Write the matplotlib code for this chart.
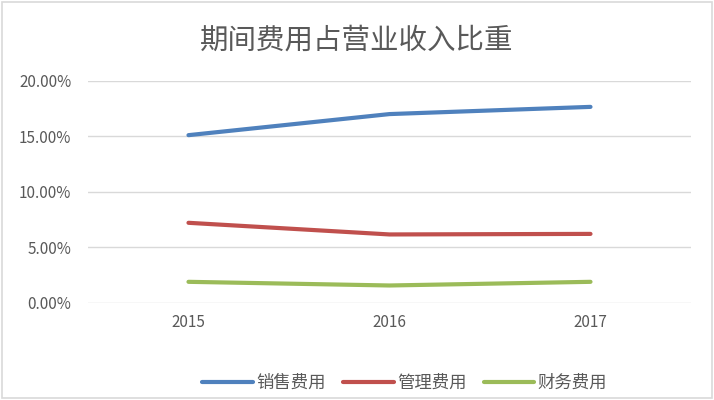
import matplotlib
matplotlib.use('Agg')
import matplotlib.pyplot as plt
import matplotlib.patches as patches
from matplotlib.ticker import PercentFormatter

plt.rcParams['font.family'] = ['Noto Sans CJK SC', 'DejaVu Sans']

years = ['2015', '2016', '2017']
sales = [15.1, 17.0, 17.65]
admin = [7.2, 6.15, 6.2]
finance = [1.88, 1.55, 1.88]
series_names = ['销售费用', '管理费用', '财务费用']
colors = ['#4F81BD', '#C0504D', '#9BBB59']

fig = plt.figure(figsize=(7.14, 4.0), dpi=100)
ax = fig.add_axes([0.1232, 0.2433, 0.8446, 0.5547])

x = range(len(years))
for vals, name, c in zip([sales, admin, finance], series_names, colors):
    ax.plot(x, [v / 100 for v in vals], color=c, lw=3, label=name,
            solid_capstyle='round')

ax.set_xlim(-0.5, 2.5)
ax.set_ylim(0, 0.2)
ax.set_yticks([0, 0.05, 0.10, 0.15, 0.20])
ax.yaxis.set_major_formatter(PercentFormatter(1.0, decimals=2))
ax.set_xticks(list(x))
ax.set_xticklabels(years)
ax.grid(axis='y', color='#D9D9D9', lw=1)
ax.set_axisbelow(True)
for s in ax.spines.values():
    s.set_visible(False)
ax.tick_params(length=0, labelsize=11, labelcolor='#595959', pad=8)
ax.tick_params(axis='y', pad=12)

fig.suptitle('期间费用占营业收入比重', x=0.5, y=0.935, fontsize=20.5, color='#595959',
             fontweight='light')

fig.legend(loc='center', bbox_to_anchor=(0.567, 0.043), ncol=3, frameon=False,
           fontsize=12.5, labelcolor='#595959', handlelength=2.9, handletextpad=0.2,
           columnspacing=1.0)

fig.patches.append(patches.Rectangle((0.003, 0.004), 0.994, 0.992, transform=fig.transFigure,
                                     fill=False, edgecolor='#D9D9D9', lw=1.2))

fig.savefig('out.png', dpi=100)
